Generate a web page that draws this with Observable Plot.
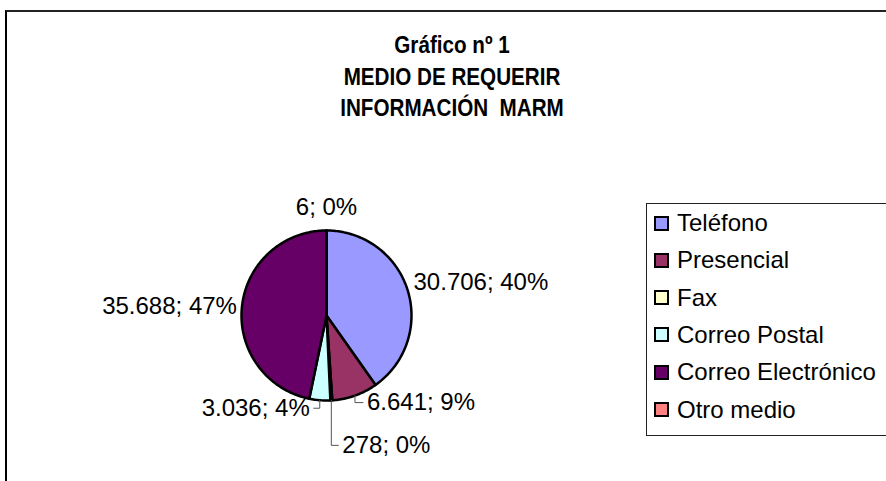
<!DOCTYPE html>
<html>
<head>
<meta charset="utf-8">
<script src="https://cdn.jsdelivr.net/npm/d3@7"></script>
<script src="https://cdn.jsdelivr.net/npm/@observablehq/plot@0.6"></script>
<style>
  html, body { margin: 0; padding: 0; background: #fff; }
  #root { position: relative; width: 886px; height: 481px; overflow: hidden; background: #fff;
          font-family: "Liberation Sans", Arial, sans-serif; color: #000; }
  #frame { position: absolute; left: 5px; top: 10px; width: 920px; height: 520px;
           border-left: 2px solid #000; border-top: 2px solid #222; }
  #title { position: absolute; left: 6px; width: 892px; top: 29px; text-align: center;
           font-weight: bold; font-size: 24px; line-height: 31.5px; white-space: pre;
           transform: scaleX(0.86); transform-origin: 446px 0; }
  #chart { position: absolute; left: 0; top: 0; }
  #legend { position: absolute; left: 646px; top: 203px; width: 300px; height: 231px;
            border: 1px solid #222; background: #fff; }
  .item { position: absolute; left: 7px; height: 30px; display: flex; align-items: center;
          font-size: 24px; line-height: 24px; white-space: nowrap; }
  .sw { width: 15px; height: 15px; box-sizing: border-box; border: 2px solid #000; margin-right: 8px; }
</style>
</head>
<body>
<div id="root">
  <div id="frame"></div>
  <div id="chart"></div>
  <div id="title"></div>
  <div id="legend"></div>
</div>
<script>
// ---- data ----
const categories = ["Teléfono", "Presencial", "Fax", "Correo Postal", "Correo Electrónico", "Otro medio"];
const values = [30706, 6641, 278, 3036, 35688, 6];
const colors = ["#9999FF", "#993366", "#FFFFCC", "#CCFFFF", "#660066", "#FF8080"];
const titleLines = ["Gráfico nº 1", "MEDIO DE REQUERIR", "INFORMACIÓN  MARM"];

// ---- layout (pixels) ----
const CX = 326, CY = 315, R = 85;
const labelLayout = {
  "Teléfono":           {dx: 6,   dy: -7,  anchor: "start"},
  "Presencial":         {dx: 12,  dy: 7,   anchor: "start", leader: true},
  "Fax":                {dx: 11,  dy: 45,  anchor: "start", leader: true},
  "Correo Postal":      {dx: -10, dy: 8,   anchor: "end",   leader: true},
  "Correo Electrónico": {dx: -5,  dy: -1,  anchor: "end"},
  "Otro medio":         {dx: 0,   dy: -23, anchor: "middle"}
};

const fmt = d3.formatLocale({decimal: ",", thousands: ".", grouping: [3], currency: ["", "€"]}).format(",d");
const total = d3.sum(values);
let acc = 0;
const slices = categories.map((name, i) => {
  const a0 = acc / total * 2 * Math.PI;
  acc += values[i];
  const a1 = acc / total * 2 * Math.PI;
  return {name, value: values[i], a0, a1, mid: (a0 + a1) / 2};
});

const pts = slices.flatMap(s => {
  const n = Math.max(2, Math.ceil((s.a1 - s.a0) / (Math.PI / 180)));
  const arr = [{name: s.name, x: 0, y: 0}];
  for (let k = 0; k <= n; k++) {
    const a = s.a0 + (s.a1 - s.a0) * k / n;
    arr.push({name: s.name, x: Math.sin(a), y: Math.cos(a)});
  }
  return arr;
});

const labels = slices.map(s => {
  const L = labelLayout[s.name];
  const ex = Math.sin(s.mid), ey = Math.cos(s.mid);
  return {
    name: s.name, anchor: L.anchor, leader: L.leader,
    ex, ey,
    x: ex + L.dx / R, y: ey - L.dy / R,
    text: fmt(s.value) + "; " + Math.round(s.value / total * 100) + "%"
  };
});

const leaders = labels.filter(d => d.leader).flatMap(d => {
  const side = d.anchor === "start" ? -1 : 1;
  return [
    {name: d.name, x: d.ex, y: d.ey},
    {name: d.name, x: d.ex, y: d.y},
    {name: d.name, x: d.x + side * 4 / R, y: d.y}
  ];
});

const textOpts = {x: "x", y: "y", text: "text", fontSize: 24, fill: "#000"};

const chart = Plot.plot({
  width: 886, height: 481,
  x: {domain: [-1, 1], range: [CX - R, CX + R], axis: null},
  y: {domain: [-1, 1], range: [CY + R, CY - R], axis: null},
  color: {domain: categories, range: colors},
  style: {fontFamily: "'Liberation Sans', Arial, sans-serif", background: "transparent", overflow: "visible"},
  marks: [
    Plot.line(pts, {x: "x", y: "y", z: "name", fill: "name", stroke: "#000", strokeWidth: 2.5,
                    curve: "linear-closed", strokeLinejoin: "round"}),
    Plot.line(leaders, {x: "x", y: "y", z: "name", stroke: "#555", strokeWidth: 1}),
    Plot.text(labels.filter(d => d.anchor === "start"), {...textOpts, textAnchor: "start"}),
    Plot.text(labels.filter(d => d.anchor === "end"), {...textOpts, textAnchor: "end"}),
    Plot.text(labels.filter(d => d.anchor === "middle"), {...textOpts, textAnchor: "middle"})
  ]
});
document.getElementById("chart").appendChild(chart);

document.getElementById("title").textContent = titleLines.join("\n");

const legend = document.getElementById("legend");
categories.forEach((c, i) => {
  const item = document.createElement("div");
  item.className = "item";
  item.style.top = (19 - 15 + i * 37.3) + "px";
  const sw = document.createElement("div");
  sw.className = "sw";
  sw.style.background = colors[i];
  const t = document.createElement("span");
  t.textContent = c;
  item.appendChild(sw);
  item.appendChild(t);
  legend.appendChild(item);
});
</script>
</body>
</html>
